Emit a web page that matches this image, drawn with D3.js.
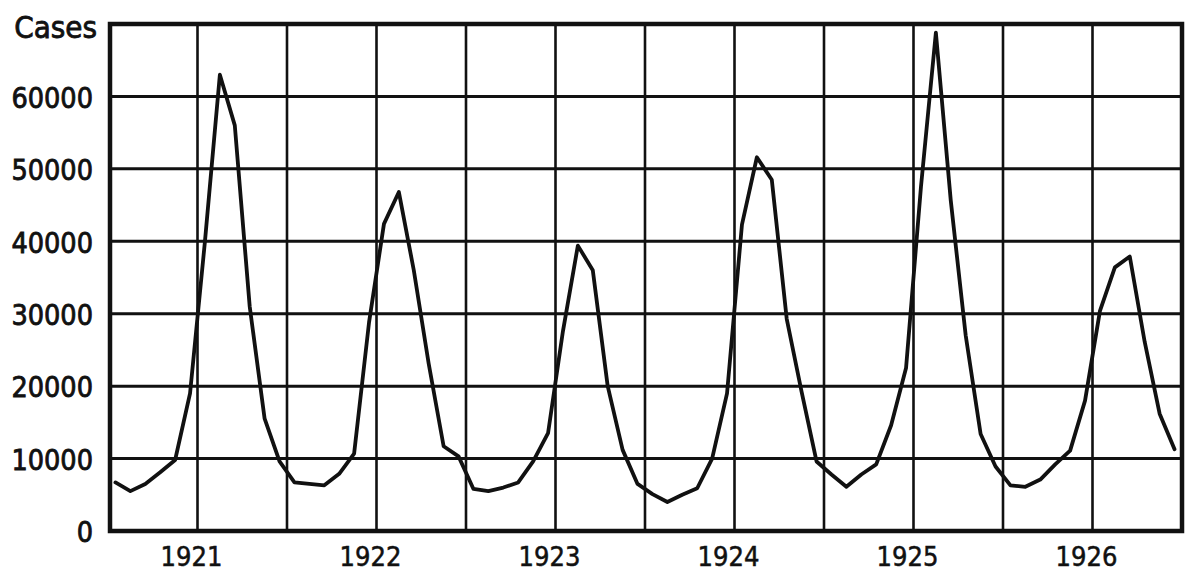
<!DOCTYPE html>
<html>
<head>
<meta charset="utf-8">
<script src="https://cdn.jsdelivr.net/npm/d3@7"></script>
<style>
  html, body { margin: 0; padding: 0; background: #fff; }
  svg { display: block; }
  text { font-family: "DejaVu Sans Condensed", "DejaVu Sans", sans-serif; fill: #111; }
</style>
</head>
<body>
<svg id="chart" width="1200" height="585"></svg>
<script>
// ---- Data (monthly cases, July 1920 – June 1926) ----
const startYear = 1920;
const startMonth = 6; // July (0-based)
const cases = [
  // 1920 Jul–Dec
  6700, 5500, 6500, 8100, 9800, 19000,
  // 1921
  40000, 63000, 56000, 31000, 15500, 9600, 6700, 6500, 6300, 7900, 10700, 28800,
  // 1922
  42400, 46800, 36000, 23100, 11700, 10300, 5800, 5500, 6000, 6700, 9600, 13500,
  // 1923
  27600, 39400, 36000, 20000, 11200, 6500, 5100, 4000, 5000, 5900, 10000, 19000,
  // 1924
  42300, 51600, 48500, 29300, 19200, 9600, 7800, 6100, 7800, 9200, 14600, 22500,
  // 1925
  47500, 68800, 45600, 27000, 13400, 8900, 6300, 6100, 7100, 9200, 11100, 18000,
  // 1926 Jan–Jun
  30400, 36400, 37900, 26100, 16200, 11300
];
const yTicks = [0, 10000, 20000, 30000, 40000, 50000, 60000];
const yMax = 70000;
const yearLabels = ["1921", "1922", "1923", "1924", "1925", "1926"];
const yAxisTitle = "Cases";

(function () {
const svg = d3.select("#chart");
const mLeft = 108, mRight = 1182, mTop = 24, mBottom = 531;
const nMonths = cases.length;

const x = d3.scaleLinear().domain([0, nMonths]).range([mLeft, mRight]);
const y = d3.scaleLinear().domain([0, yMax]).range([mBottom, mTop]);

const yearIdx = yearLabels.map(yr => (+yr - startYear) * 12 - startMonth);

// vertical grid every 6 months
const vLines = d3.range(6, nMonths, 6);
svg.append("g").selectAll("line").data(vLines).join("line")
  .attr("x1", d => x(d)).attr("x2", d => x(d))
  .attr("y1", mTop).attr("y2", mBottom)
  .attr("stroke", "#111").attr("stroke-width", 2.6);

// horizontal grid
svg.append("g").selectAll("line").data(yTicks.filter(v => v > 0)).join("line")
  .attr("x1", mLeft).attr("x2", mRight)
  .attr("y1", d => y(d)).attr("y2", d => y(d))
  .attr("stroke", "#111").attr("stroke-width", 3);

// frame
svg.append("rect")
  .attr("x", mLeft + 2).attr("y", y(yMax))
  .attr("width", mRight - mLeft - 2).attr("height", mBottom - y(yMax))
  .attr("fill", "none").attr("stroke", "#111").attr("stroke-width", 4.5);

// data line (points at mid-month)
const line = d3.line()
  .x((d, i) => x(i + 0.5))
  .y(d => y(d));
svg.append("path").datum(cases)
  .attr("d", line)
  .attr("fill", "none")
  .attr("stroke", "#111")
  .attr("stroke-width", 3.8)
  .attr("stroke-linejoin", "round")
  .attr("stroke-linecap", "round");

// y axis labels
const yAxis = d3.axisLeft(y).tickValues(yTicks).tickSize(0).tickPadding(15)
  .tickFormat(d3.format("d"));
const gy = svg.append("g").attr("transform", `translate(${mLeft},0)`).call(yAxis);
gy.select(".domain").remove();
gy.selectAll("text")
  .style("font-family", '"DejaVu Sans Condensed", "DejaVu Sans", sans-serif')
  .attr("font-size", 28.5)
  .attr("fill", "#111")
  .attr("stroke", "#111").attr("stroke-width", 0.8)
  .attr("dy", "0.38em");

// title
svg.append("text")
  .attr("x", 97).attr("y", 38)
  .attr("text-anchor", "end")
  .attr("font-size", 31)
  .attr("stroke", "#111").attr("stroke-width", 0.8)
  .text(yAxisTitle);

// year labels
svg.append("g").selectAll("text").data(yearLabels).join("text")
  .attr("x", (d, i) => x(yearIdx[i]) - 6)
  .attr("y", 566)
  .attr("text-anchor", "middle")
  .attr("font-size", 27)
  .attr("stroke", "#111").attr("stroke-width", 0.5)
  .text(d => d);
})();
</script>
</body>
</html>
